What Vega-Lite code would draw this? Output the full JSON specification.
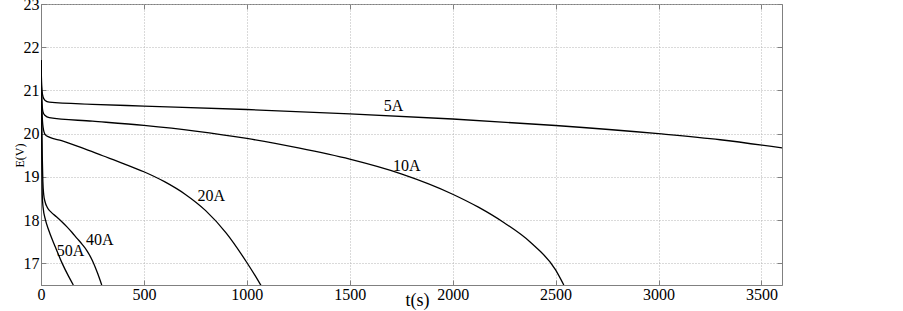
{
  "$schema": "https://vega.github.io/schema/vega-lite/v6.json",
  "width": 741,
  "height": 281,
  "autosize": {"type": "none"},
  "padding": {"left": 41, "top": 4, "right": 121, "bottom": 26},
  "background": "white",
  "config": {
    "view": {"stroke": "#808080", "strokeWidth": 1},
    "font": "Liberation Serif",
    "axis": {
      "labelFont": "Liberation Serif",
      "labelFontSize": 16,
      "labelColor": "black",
      "titleFont": "Liberation Serif",
      "titleColor": "black",
      "titleFontWeight": "normal",
      "tickColor": "#808080",
      "domainColor": "#808080",
      "tickSize": -5,
      "labelFlush": false,
      "labelOverlap": false,
      "gridColor": "#b4b4b4",
      "gridDash": [1, 2],
      "gridWidth": 1
    }
  },
  "datasets": {
    "curves": [
      {"series": "5A", "t": 0, "v": 21.7}, {"series": "5A", "t": 2, "v": 21.3}, {"series": "5A", "t": 5, "v": 21.0}, {"series": "5A", "t": 10, "v": 20.85}, {"series": "5A", "t": 20, "v": 20.77}, {"series": "5A", "t": 40, "v": 20.73}, {"series": "5A", "t": 250, "v": 20.68}, {"series": "5A", "t": 500, "v": 20.64}, {"series": "5A", "t": 1000, "v": 20.56}, {"series": "5A", "t": 1500, "v": 20.46}, {"series": "5A", "t": 2000, "v": 20.34}, {"series": "5A", "t": 2500, "v": 20.19}, {"series": "5A", "t": 3000, "v": 20.0}, {"series": "5A", "t": 3300, "v": 19.86}, {"series": "5A", "t": 3600, "v": 19.67},
      {"series": "10A", "t": 0, "v": 21.7}, {"series": "10A", "t": 2, "v": 21.1}, {"series": "10A", "t": 5, "v": 20.7}, {"series": "10A", "t": 10, "v": 20.5}, {"series": "10A", "t": 20, "v": 20.42}, {"series": "10A", "t": 40, "v": 20.37}, {"series": "10A", "t": 250, "v": 20.29}, {"series": "10A", "t": 500, "v": 20.19}, {"series": "10A", "t": 750, "v": 20.06}, {"series": "10A", "t": 1000, "v": 19.89}, {"series": "10A", "t": 1250, "v": 19.67}, {"series": "10A", "t": 1500, "v": 19.41}, {"series": "10A", "t": 1750, "v": 19.07}, {"series": "10A", "t": 2000, "v": 18.6}, {"series": "10A", "t": 2125, "v": 18.3}, {"series": "10A", "t": 2250, "v": 17.94}, {"series": "10A", "t": 2375, "v": 17.5}, {"series": "10A", "t": 2500, "v": 16.85}, {"series": "10A", "t": 2540, "v": 16.5},
      {"series": "20A", "t": 0, "v": 21.7}, {"series": "20A", "t": 2, "v": 21.0}, {"series": "20A", "t": 5, "v": 20.5}, {"series": "20A", "t": 10, "v": 20.15}, {"series": "20A", "t": 20, "v": 19.98}, {"series": "20A", "t": 40, "v": 19.92}, {"series": "20A", "t": 100, "v": 19.84}, {"series": "20A", "t": 200, "v": 19.67}, {"series": "20A", "t": 300, "v": 19.49}, {"series": "20A", "t": 400, "v": 19.31}, {"series": "20A", "t": 500, "v": 19.12}, {"series": "20A", "t": 600, "v": 18.89}, {"series": "20A", "t": 700, "v": 18.6}, {"series": "20A", "t": 800, "v": 18.22}, {"series": "20A", "t": 900, "v": 17.7}, {"series": "20A", "t": 1000, "v": 17.02}, {"series": "20A", "t": 1050, "v": 16.64}, {"series": "20A", "t": 1075, "v": 16.44},
      {"series": "40A", "t": 0, "v": 21.7}, {"series": "40A", "t": 3, "v": 20.5}, {"series": "40A", "t": 6, "v": 19.5}, {"series": "40A", "t": 9, "v": 18.9}, {"series": "40A", "t": 13, "v": 18.6}, {"series": "40A", "t": 20, "v": 18.42}, {"series": "40A", "t": 30, "v": 18.3}, {"series": "40A", "t": 50, "v": 18.18}, {"series": "40A", "t": 75, "v": 18.08}, {"series": "40A", "t": 100, "v": 17.97}, {"series": "40A", "t": 125, "v": 17.85}, {"series": "40A", "t": 150, "v": 17.72}, {"series": "40A", "t": 175, "v": 17.58}, {"series": "40A", "t": 200, "v": 17.44}, {"series": "40A", "t": 225, "v": 17.28}, {"series": "40A", "t": 250, "v": 17.06}, {"series": "40A", "t": 275, "v": 16.77}, {"series": "40A", "t": 295, "v": 16.5},
      {"series": "50A", "t": 0, "v": 21.7}, {"series": "50A", "t": 2, "v": 20.5}, {"series": "50A", "t": 4, "v": 19.4}, {"series": "50A", "t": 6, "v": 18.6}, {"series": "50A", "t": 10, "v": 18.3}, {"series": "50A", "t": 22, "v": 18.0}, {"series": "50A", "t": 35, "v": 17.8}, {"series": "50A", "t": 67, "v": 17.41}, {"series": "50A", "t": 103, "v": 17.0}, {"series": "50A", "t": 133, "v": 16.71}, {"series": "50A", "t": 157, "v": 16.5}
    ],
    "labels": [
      {"label": "5A", "t": 1713, "v": 20.63},
      {"label": "10A", "t": 1777, "v": 19.26},
      {"label": "20A", "t": 827, "v": 18.55},
      {"label": "40A", "t": 285, "v": 17.55},
      {"label": "50A", "t": 143, "v": 17.28}
    ]
  },
  "layer": [
    {
      "data": {"name": "curves"},
      "mark": {"type": "line", "interpolate": "monotone", "color": "black", "strokeWidth": 1.3, "clip": true},
      "encoding": {
        "x": {
          "field": "t", "type": "quantitative",
          "scale": {"domain": [0, 3600], "nice": false, "zero": false},
          "axis": {
            "orient": "bottom",
            "values": [0, 500, 1000, 1500, 2000, 2500, 3000, 3500],
            "format": "d",
            "grid": true,
            "labelFont": "Liberation Serif",
            "labelFontSize": 16,
            "labelPadding": 6,
            "title": "t(s)",
            "titleFont": "Liberation Serif",
            "titleFontSize": 18,
            "titleX": 376,
            "titleY": 20,
            "titleAlign": "center",
            "titleBaseline": "alphabetic"
          }
        },
        "y": {
          "field": "v", "type": "quantitative",
          "scale": {"domain": [16.5, 23], "nice": false, "zero": false},
          "axis": {
            "orient": "left",
            "values": [17, 18, 19, 20, 21, 22, 23],
            "format": "d",
            "grid": true,
            "labelFont": "Liberation Serif",
            "labelFontSize": 16,
            "labelPadding": 7,
            "title": "E(V)",
            "titleFont": "Liberation Serif",
            "titleFontSize": 12,
            "titleAngle": -90,
            "titleX": -22,
            "titleY": 151,
            "titleAlign": "center",
            "titleBaseline": "middle"
          }
        },
        "detail": {"field": "series", "type": "nominal"}
      }
    },
    {
      "data": {"name": "labels"},
      "mark": {"type": "text", "font": "Liberation Serif", "fontSize": 16, "color": "black", "align": "center", "baseline": "middle"},
      "encoding": {
        "x": {
          "field": "t", "type": "quantitative",
          "scale": {"domain": [0, 3600], "nice": false, "zero": false},
          "axis": {"orient": "top", "values": [0, 500, 1000, 1500, 2000, 2500, 3000, 3500], "labels": false, "grid": false, "domain": false, "title": null}
        },
        "y": {
          "field": "v", "type": "quantitative",
          "scale": {"domain": [16.5, 23], "nice": false, "zero": false},
          "axis": {"orient": "right", "values": [17, 18, 19, 20, 21, 22, 23], "labels": false, "grid": false, "domain": false, "title": null}
        },
        "text": {"field": "label", "type": "nominal"}
      }
    }
  ],
  "resolve": {"axis": {"x": "independent", "y": "independent"}}
}
